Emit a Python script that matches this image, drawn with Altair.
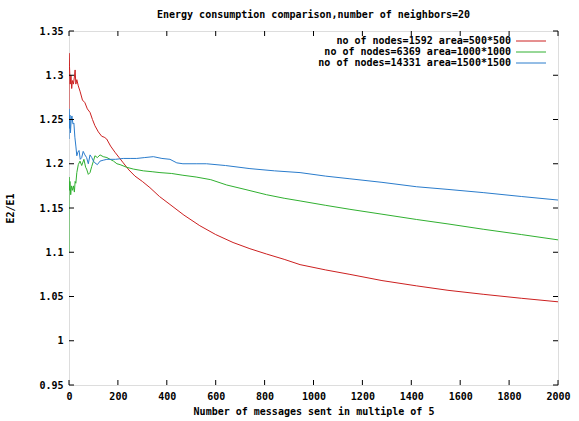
import altair as alt
import pandas as pd

# ---- data ----
series_names = [
    "no of nodes=1592 area=500*500",
    "no of nodes=6369 area=1000*1000",
    "no of nodes=14331 area=1500*1500",
]
series_colors = ["#cc2020", "#30b030", "#2a7ccc"]

red_x = [0, 0, 2, 5, 8, 11, 14, 18, 22, 25, 28, 32, 38, 45, 55, 65, 75, 86, 96, 106,
         120, 134, 144, 154, 170, 188, 205, 222, 245, 270, 300, 331, 370, 413, 470,
         535, 600, 671, 740, 808, 880, 945, 1050, 1149, 1280, 1422, 1550, 1694, 1850, 2000]
red_y = [1.262, 1.325, 1.31, 1.29, 1.30, 1.285, 1.294, 1.29, 1.298, 1.306, 1.29, 1.295,
         1.288, 1.282, 1.272, 1.269, 1.262, 1.258, 1.25, 1.243, 1.236, 1.231, 1.23, 1.228,
         1.22, 1.213, 1.207, 1.201, 1.193, 1.186, 1.18, 1.173, 1.163, 1.154, 1.142, 1.130,
         1.12, 1.111, 1.104, 1.098, 1.092, 1.086, 1.08, 1.075, 1.068, 1.062, 1.057, 1.0525,
         1.048, 1.044]

green_x = [0, 0, 2, 4, 7, 10, 14, 18, 22, 25, 28, 32, 38, 45, 52, 61, 68, 72, 79, 86, 93,
           100, 106, 116, 127, 140, 155, 168, 182, 196, 209, 236, 263, 304, 340, 372, 420,
           466, 520, 580, 645, 720, 808, 880, 945, 1050, 1149, 1280, 1422, 1550, 1694,
           1850, 2000]
green_y = [1.10, 1.185, 1.17, 1.18, 1.165, 1.175, 1.17, 1.175, 1.168, 1.18, 1.178, 1.19,
           1.199, 1.203, 1.198, 1.205, 1.196, 1.194, 1.188, 1.19, 1.197, 1.203, 1.209,
           1.207, 1.21, 1.208, 1.207, 1.205, 1.203, 1.2, 1.199, 1.196, 1.194, 1.192, 1.191,
           1.19, 1.189, 1.187, 1.185, 1.182, 1.176, 1.171, 1.165, 1.161, 1.158, 1.153,
           1.1485, 1.143, 1.137, 1.132, 1.126, 1.12, 1.114]

blue_x = [0, 0, 2, 4, 6, 9, 12, 16, 20, 24, 28, 32, 36, 41, 46, 52, 58, 65, 72, 79, 86, 93,
          100, 106, 116, 127, 140, 155, 168, 190, 222, 250, 277, 310, 345, 380, 413, 441,
          466, 520, 562, 640, 740, 840, 945, 1050, 1149, 1280, 1422, 1550, 1694, 1850, 2000]
blue_y = [1.228, 1.262, 1.24, 1.255, 1.235, 1.25, 1.254, 1.245, 1.246, 1.23, 1.22, 1.209,
          1.213, 1.215, 1.205, 1.207, 1.214, 1.21, 1.207, 1.2, 1.21, 1.207, 1.203, 1.201,
          1.199, 1.203, 1.204, 1.205, 1.205, 1.205, 1.206, 1.206, 1.206, 1.207, 1.208,
          1.206, 1.205, 1.201, 1.200, 1.2, 1.2, 1.198, 1.1945, 1.192, 1.19, 1.186, 1.183,
          1.179, 1.174, 1.171, 1.1674, 1.163, 1.159]

x_ticks = [0, 200, 400, 600, 800, 1000, 1200, 1400, 1600, 1800, 2000]
y_ticks = [0.95, 1.0, 1.05, 1.1, 1.15, 1.2, 1.25, 1.3, 1.35]

# ---- build tables ----
rows = []
for name, xs, ys in zip(series_names, [red_x, green_x, blue_x], [red_y, green_y, blue_y]):
    for i, (a, b) in enumerate(zip(xs, ys)):
        rows.append({"series": name, "x": a, "y": b, "i": i})
df = pd.DataFrame(rows)

FONT = "DejaVu Sans Mono"
W, H = 489, 354

xscale = alt.Scale(domain=[0, 2000], nice=False, zero=False)
yscale = alt.Scale(domain=[0.95, 1.35], nice=False, zero=False)
cscale = alt.Scale(domain=series_names, range=series_colors)

lines = alt.Chart(df).mark_line(strokeWidth=1, clip=True).encode(
    x=alt.X("x:Q", scale=xscale, axis=alt.Axis(
        values=x_ticks, format="d", tickSize=0, domain=False, grid=False, labelPadding=6,
        labelFont=FONT, labelFontSize=10, labelFontWeight="bold", labelColor="#000",
        title="Number of messages sent in multiple of 5", titleFont=FONT,
        titleFontSize=10, titleFontWeight="bold", titleColor="#000",
        titleX=W / 2, titleY=26, titleBaseline="middle", labelFlush=False)),
    y=alt.Y("y:Q", scale=yscale, axis=alt.Axis(
        values=y_ticks, format=".2~f", tickSize=0, domain=False, grid=False,
        labelPadding=6, labelFont=FONT, labelFontSize=10, labelFontWeight="bold",
        labelColor="#000", title="E2/E1", titleFont=FONT, titleFontSize=10,
        titleFontWeight="bold", titleColor="#000", titleX=-59, titleY=H / 2,
        titleAngle=-90, titleBaseline="middle", titleAlign="center")),
    color=alt.Color("series:N", scale=cscale, legend=None),
    order=alt.Order("i:Q"),
)

xt = pd.DataFrame({"t": x_ticks})
yt = pd.DataFrame({"t": y_ticks})
tick_color = "#000"
xtick_bottom = alt.Chart(xt).mark_rule(color=tick_color).encode(
    x=alt.X("t:Q", scale=xscale), y=alt.value(H), y2=alt.value(H - 5))
xtick_top = alt.Chart(xt).mark_rule(color=tick_color).encode(
    x=alt.X("t:Q", scale=xscale), y=alt.value(0), y2=alt.value(5))
ytick_left = alt.Chart(yt).mark_rule(color=tick_color).encode(
    y=alt.Y("t:Q", scale=yscale), x=alt.value(0), x2=alt.value(5))
ytick_right = alt.Chart(yt).mark_rule(color=tick_color).encode(
    y=alt.Y("t:Q", scale=yscale), x=alt.value(W), x2=alt.value(W - 5))

legend_layers = []
for k, (name, col) in enumerate(zip(series_names, series_colors)):
    ly = 10 + 11 * k
    ldf = pd.DataFrame({"label": [name]})
    legend_layers.append(alt.Chart(ldf).mark_text(
        align="right", baseline="middle", font=FONT, fontSize=10, fontWeight="bold",
        color="#000").encode(text="label:N", x=alt.value(442), y=alt.value(ly)))
    legend_layers.append(alt.Chart(ldf).mark_rule(color=col, strokeWidth=1).encode(
        x=alt.value(447), x2=alt.value(477), y=alt.value(ly)))

chart = alt.layer(lines, xtick_bottom, xtick_top, ytick_left, ytick_right,
                  *legend_layers).properties(
    width=W, height=H,
    title=alt.TitleParams("Energy consumption comparison,number of neighbors=20",
                          font=FONT, fontSize=10, fontWeight="bold", color="#000",
                          anchor="middle", offset=6),
    autosize=alt.AutoSizeParams(type="none"),
    padding={"left": 69, "top": 31, "right": 21, "bottom": 36},
).configure_view(stroke="#000", strokeWidth=1).configure(background="white")

chart.save("out.html", embed_options={"renderer": "svg", "actions": False})
